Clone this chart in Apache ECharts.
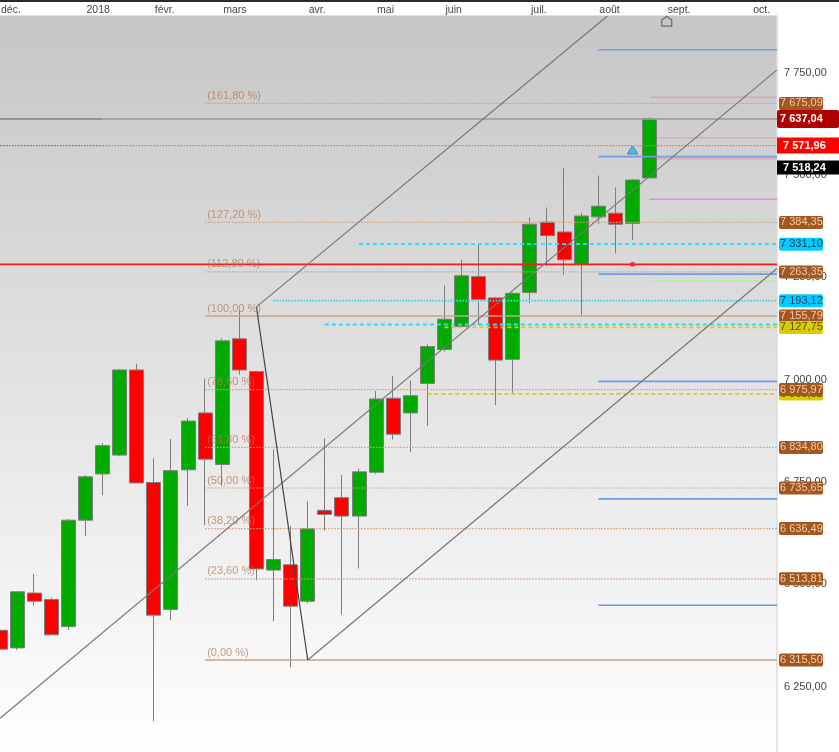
<!DOCTYPE html>
<html><head><meta charset="utf-8">
<style>html,body{margin:0;padding:0;background:#fff}#c{width:839px;height:752px}</style>
<script src="https://cdn.jsdelivr.net/npm/echarts@6/dist/echarts.min.js"></script>
</head><body><div id="c"></div>
<script>
const monthIndex  = [0,5,9,13,18,22,26,31,35,39,44];
const monthLabels = ['déc.','2018','févr.','mars','avr.','mai','juin','juil.','août','sept.','oct.'];
const opens  = [6388,6345,6479,6463,6397,6657,6770,6816,7024,6749,6439,6780,6919,6793,7100,7020,6535,6548,6459,6681,6712,6667,6774,6955,6919,6991,7074,7130,7252,7200,7050,7213,7385,7361,7282,7398,7407,7382,7493];
const closes = [6342,6482,6459,6377,6657,6763,6839,7024,6748,6425,6778,6899,6806,7095,7024,6538,6561,6447,6636,6671,6667,6775,6953,6867,6961,7081,7148,7254,7196,7048,7211,7380,7352,7293,7400,7424,7380,7488,7637];
const lows   = [6232,6340,6449,6376,6389,6618,6718,6813,6748,6166,6412,6692,6645,6741,7012,6510,6410,6298,6454,6632,6426,6539,6770,6854,6823,6887,7069,7127,7134,6938,6968,7187,7278,7256,7157,7381,7309,7341,7493];
const highs  = [6413,6484,6526,6468,6660,6767,6845,7026,7039,6808,6855,6907,7003,7101,7170,7022,6830,6643,6703,6857,6767,6783,6973,7009,6998,7087,7230,7293,7333,7202,7213,7396,7421,7517,7407,7499,7470,7490,7641];

const yTicks = [6250,6500,6750,7000,7250,7500,7750];
const yTickLabels = ['6 250,00','6 500,00','6 750,00','7 000,00','7 250,00','7 500,00','7 750,00'];

const fibValues = [7675.09,7384.35,7263.35,7155.79,6975.97,6834.80,6735.65,6636.49,6513.81,6315.50];
const fibLabels = ['(161,80 %)','(127,20 %)','(112,80 %)','(100,00 %)','(78,60 %)','(61,80 %)','(50,00 %)','(38,20 %)','(23,60 %)','(0,00 %)'];
const fibTags   = ['7 675,09','7 384,35','7 263,35','7 155,79','6 975,97','6 834,80','6 735,65','6 636,49','6 513,81','6 315,50'];
const blueLevels = [7806,7545,7258,6996,6709,6449];
const pinkLevels = [7690,7591,7540];
const magentaLevel = 7441;
const greenLevels = [7392,7293,7242];
const resistance = 7637.04, pivot = 7571.96, closeLevel = 7518.24, redSupport = 7282;
const cyanA = 7331.10, cyanB = 7193.12, cyanC = 7135, yellowA = 7127.75, yellowB = 6965.32;

// channel lines: [candle index, price]
const channelUpper = [[15,7178],[35.53,7888.6]];
const channelMiddle = [[0,6173],[45.45,7757]];
const channelLower = [[18,6315.5],[45.45,7272]];
const waveLine = [[15,7178],[18,6315.5]];

const END = 45.45;
const tag = (text,bg,fg,opt) => Object.assign({
  show:true, formatter:text, backgroundColor:bg, color:fg, fontFamily:'Liberation Sans', fontSize:11,
  borderRadius:2, padding:[1,1,0,1], distance:2, width:42, height:12, lineHeight:12, align:'left', verticalAlign:'middle'
},opt||{});
const hLine = (from,to,value,color,width,type,label,z) => ({
  type:'line', showSymbol:false, symbol:'none', silent:true, z:z||3,
  data:[[from,value],[to,value]],
  lineStyle:{color,width,type:type||'solid',cap:'butt'},
  endLabel:label||{show:false}
});
const trend = (pts,color,width) => ({
  type:'line', showSymbol:false, symbol:'none', silent:true, z:5,
  data:pts, lineStyle:{color,width}
});

const series = [];
series.push({type:'candlestick', barWidth:14.5, z:2, silent:true,
  data:opens.map((o,i)=>[i,o,closes[i],lows[i],highs[i]]),
  itemStyle:{color:'#00aa00',color0:'#ff0000',borderColor:'#7d7d7d',borderColor0:'#7d7d7d',borderWidth:1}});

fibValues.forEach((v,i)=>{
  const solid = (fibLabels[i]==='(100,00 %)'||fibLabels[i]==='(0,00 %)');
  series.push(hLine(12,END,v,solid?'#c4a48c':'#c8a085',solid?1.6:1.2,solid?'solid':[1.5,1.5],
    tag(fibTags[i],'#a3571f','#eccdb0')));
});
blueLevels.forEach(v=>series.push(hLine(35,END,v,'#6f9be8',1.6)));
pinkLevels.forEach(v=>series.push(hLine(38,END,v,'rgba(255,60,60,0.25)',1.5)));
series.push(hLine(38,END,magentaLevel,'rgba(240,90,240,0.6)',1.5));
greenLevels.forEach(v=>series.push(hLine(38,END,v,'rgba(140,255,120,0.4)',1.5)));
series.push(hLine(21,END,cyanA,'#2fdcf5',1.8,[4,3],tag('7 331,10','#00ccff','#17405a')));
series.push(hLine(16,END,cyanB,'#2fdcf5',2,[1.5,1.5],tag('7 193,12','#00ccff','#17405a')));
series.push(hLine(19,END,cyanC,'#2fdcf5',1.8,[4,3]));
series.push(hLine(25,END,yellowB,'#dccb10',1.8,[4,3],tag('6 965,32','#dccb00','#555500'),2.9));
series.push(hLine(26,END,yellowA,'#dccb10',1.8,[4,3],tag('7 127,75','#dccb00','#555500')));

series.push(hLine(0,6,resistance,'#555555',1));
series.push(hLine(6,END,resistance,'#999999',1.4,'solid',
  tag('7 637,04','#b00000','#ffffff',{fontWeight:'bold',width:56,height:16,lineHeight:16,padding:[1,3,1,3],distance:0,borderRadius:2})));
series.push(hLine(0,6,pivot,'#ee2222',1,[1.5,1.5]));
series.push(hLine(6,END,pivot,'#f06a6a',1.2,[1.5,1.5],
  tag('7 571,96','#ff0000','#ffffff',{fontWeight:'bold',width:56,height:14,lineHeight:14,padding:[1,0,1,6],distance:0,borderRadius:0})));
series.push(hLine(0,END,redSupport,'#ff1a1a',1.8));
// black last-price tag sits on its own invisible level
series.push(hLine(44.5,END,closeLevel,'rgba(0,0,0,0)',0,'solid',
  tag('7 518,24','#000000','#ffffff',{fontWeight:'bold',width:56,height:13,lineHeight:13,padding:[1,0,0,6],distance:0,borderRadius:0})));

series.push(trend(channelUpper,'#777777',1.2));
series.push(trend(channelMiddle,'#777777',1.2));
series.push(trend(channelLower,'#777777',1.2));
series.push(trend(waveLine,'#444444',1.2));

series.push({type:'scatter', silent:true, z:6, symbolSize:0,
  data:fibValues.map((v,i)=>({value:[12,v],label:{formatter:fibLabels[i]}})),
  label:{show:true,position:'right',distance:2,offset:[0,-7.5],color:'rgba(178,120,80,0.9)',fontFamily:'Liberation Sans',fontSize:11}});
series.push({type:'scatter', silent:true, z:7,
  data:[[37,redSupport]], symbol:'circle', symbolSize:5, itemStyle:{color:'#ff1a1a'}});
series.push({type:'scatter', silent:true, z:7,
  data:[[37,7561]], symbol:'path://M0 8 L2 4 L5 0 L8 4 L10 8 Z', symbolSize:[10,8],
  itemStyle:{color:'#16bdf0',borderColor:'#35606f',borderWidth:0.8}});
series.push({type:'scatter', silent:true, z:7,
  data:[[39,7876]], symbol:'path://M0 10 L0 4 L5 0 L10 4 L10 10 Z', symbolSize:[10,10],
  itemStyle:{color:'rgba(0,0,0,0)',borderColor:'#555555',borderWidth:1.2}});

const chart = echarts.init(document.getElementById('c'),null,{renderer:'canvas'});
chart.setOption({
  animation:false,
  backgroundColor:'#ffffff',
  grid:{left:0,width:777,top:16,height:736,show:true,borderWidth:0,containLabel:false,outerBoundsMode:'none',
    backgroundColor:{type:'linear',x:0,y:0,x2:0,y2:1,colorStops:[{offset:0,color:'#c6c6c6'},{offset:1,color:'#ffffff'}]}},
  xAxis:[
    {type:'value',position:'top',min:0,max:END,
     axisLine:{show:false},axisTick:{show:false},splitLine:{show:false},
     axisLabel:{customValues:monthIndex,align:'left',margin:0,padding:[0,0,0,1],color:'#444444',fontFamily:'Liberation Sans',fontSize:10.5,hideOverlap:false,
       formatter:(v)=>monthLabels[monthIndex.indexOf(v)]}}
  ],
  yAxis:[{type:'value',position:'right',min:6090.7,max:7888.6,
    axisLine:{show:true,onZero:false,lineStyle:{color:'#dddddd',width:1.5}},axisTick:{show:false},splitLine:{show:false},
    axisLabel:{customValues:yTicks,margin:7,color:'#444444',fontFamily:'Liberation Sans',fontSize:11,
      formatter:(v)=>yTickLabels[yTicks.indexOf(v)]}}],
  graphic:[
    {type:'rect',shape:{x:0,y:0,width:839,height:2},style:{fill:'#2a2a2a'},silent:true},
    {type:'rect',shape:{x:0,y:15,width:777,height:1},style:{fill:'#e2e2e2'},silent:true}
  ],
  series
});
</script></body></html>
